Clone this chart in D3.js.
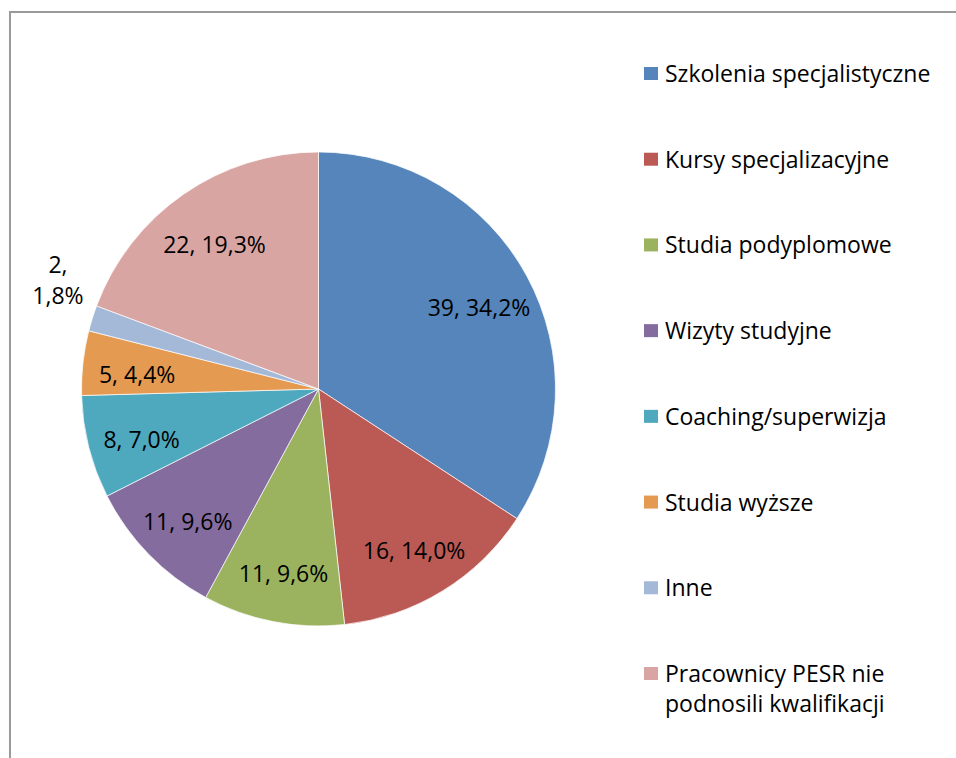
<!DOCTYPE html>
<html lang="pl">
  <head>
    <meta charset="utf-8" />
    <title>Podnoszenie kwalifikacji</title>
    <script src="https://cdn.jsdelivr.net/npm/d3@7"></script>
    <style>
      body { margin: 0; background: #fff; }
      text { font-family: "Open Sans", sans-serif; fill: #000; }
      .frame { fill: none; stroke: #9a9a9a; stroke-width: 2px; }
      .slice { stroke: #fff; stroke-width: 0.7px; }
    </style>
  </head>
  <body>
    <script>
      const categories = [
        "Szkolenia specjalistyczne",
        "Kursy specjalizacyjne",
        "Studia podyplomowe",
        "Wizyty studyjne",
        "Coaching/superwizja",
        "Studia wyższe",
        "Inne",
        "Pracownicy PESR nie podnosili kwalifikacji"
      ];
      const values = [39, 16, 11, 11, 8, 5, 2, 22];
      const percentLabels = ["34,2%", "14,0%", "9,6%", "9,6%", "7,0%", "4,4%", "1,8%", "19,3%"];
      const colors = ["#5585BA", "#BB5A55", "#9BB35E", "#856C9F", "#4EA8BE", "#E59A52", "#A4B8D8", "#D9A5A3"];
      // legend wraps the long last entry
      const legendLines = [
        ["Szkolenia specjalistyczne"],
        ["Kursy specjalizacyjne"],
        ["Studia podyplomowe"],
        ["Wizyty studyjne"],
        ["Coaching/superwizja"],
        ["Studia wyższe"],
        ["Inne"],
        ["Pracownicy PESR nie", "podnosili kwalifikacji"]
      ];

      const w = 956, h = 758;
      const cx = 318.5, cy = 389, R = 237;

      const svg = d3.select("body").append("svg")
        .attr("width", w).attr("height", h);

      // outer frame, cut off at right and bottom
      svg.append("path").attr("class", "frame")
        .attr("d", `M10,${h + 2} L10,12 L${w + 2},12`);

      const data = categories.map((c, i) => ({ name: c, value: values[i], pct: percentLabels[i], color: colors[i] }));

      const pie = d3.pie().sort(null).value(d => d.value);
      const arcs = pie(data);
      const arc = d3.arc().innerRadius(0).outerRadius(R);

      const g = svg.append("g").attr("transform", `translate(${cx},${cy})`);

      g.selectAll("path.slice")
        .data(arcs)
        .join("path")
        .attr("class", "slice")
        .attr("d", arc)
        .attr("fill", d => d.data.color);

      const fontSize = 23;
      const total = d3.sum(values);

      arcs.forEach(d => {
        const share = d.data.value / total;
        const mid = (d.startAngle + d.endAngle) / 2;
        if (share < 0.03) {
          // small slice: label outside, two lines
          const r = R * 1.19;
          const x = Math.sin(mid + 0.09) * r, y = -Math.cos(mid + 0.09) * r;
          g.append("text").attr("text-anchor", "middle")
            .attr("x", x).attr("y", y - 16).attr("dy", "0.35em")
            .style("font-size", fontSize + "px")
            .text(d.data.value + ",");
          g.append("text").attr("text-anchor", "middle")
            .attr("x", x).attr("y", y + 15).attr("dy", "0.35em")
            .style("font-size", fontSize + "px")
            .text(d.data.pct);
        } else {
          const r = R * 0.77;
          g.append("text").attr("text-anchor", "middle")
            .attr("x", Math.sin(mid) * r)
            .attr("y", -Math.cos(mid) * r + 6)
            .attr("dy", "0.35em")
            .style("font-size", fontSize + "px")
            .text(d.data.value + ", " + d.data.pct);
        }
      });

      // legend
      const legY = d3.scalePoint().domain(categories).range([74, 674]);
      const leg = svg.append("g").selectAll("g")
        .data(data)
        .join("g")
        .attr("transform", d => `translate(644,${legY(d.name)})`);

      leg.append("rect")
        .attr("x", 0).attr("y", -7)
        .attr("width", 14).attr("height", 13)
        .attr("fill", d => d.color);

      leg.each(function (d, i) {
        legendLines[i].forEach((line, j) => {
          d3.select(this).append("text")
            .attr("x", 21).attr("y", j * 30).attr("dy", "0.35em")
            .style("font-size", fontSize + "px")
            .text(line);
        });
      });
    </script>
  </body>
</html>
